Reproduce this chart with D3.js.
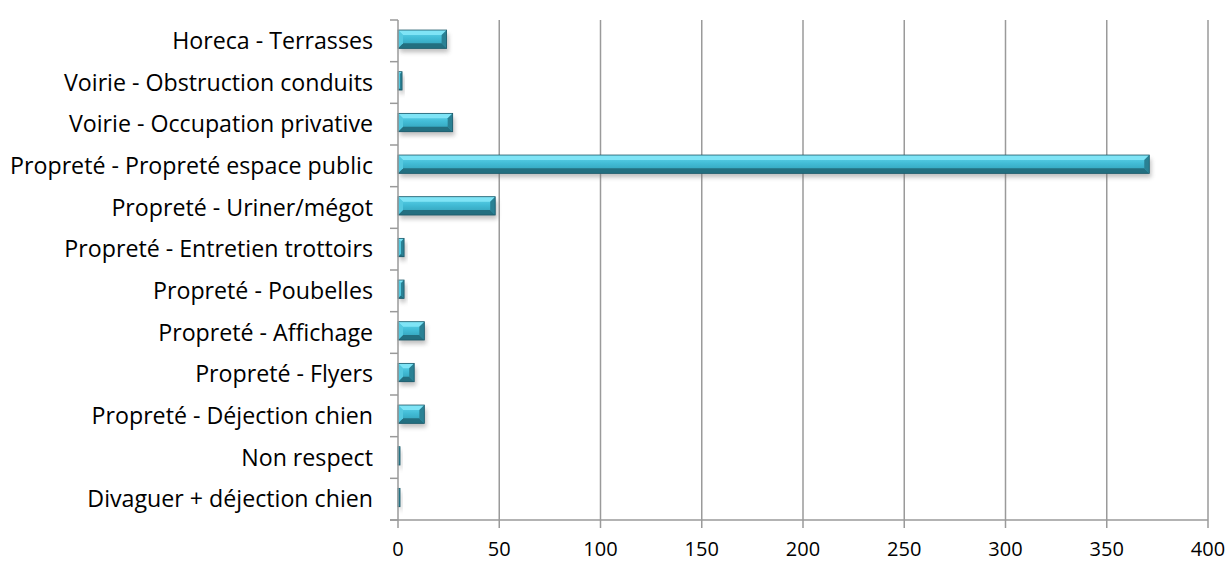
<!DOCTYPE html>
<html>
<head>
<meta charset="utf-8">
<script src="https://cdn.jsdelivr.net/npm/d3@7"></script>
<style>
  html, body { margin: 0; padding: 0; background: #fff; }
  svg { display: block; }
  text { font-family: "Open Sans", "Noto Sans", sans-serif; fill: #000; }
</style>
</head>
<body>
<svg id="chart" width="1230" height="562"></svg>
<script>
// Infractions by category (top to bottom)
const categories = [
  "Horeca - Terrasses",
  "Voirie - Obstruction conduits",
  "Voirie - Occupation privative",
  "Propreté - Propreté espace public",
  "Propreté - Uriner/mégot",
  "Propreté - Entretien trottoirs",
  "Propreté - Poubelles",
  "Propreté - Affichage",
  "Propreté - Flyers",
  "Propreté - Déjection chien",
  "Non respect",
  "Divaguer + déjection chien"
];
const values = [24, 2, 27, 371, 48, 3, 3, 13, 8, 13, 1, 1];
const xTicks = [0, 50, 100, 150, 200, 250, 300, 350, 400];

const svg = d3.select("#chart");
const margin = { left: 398, right: 22, top: 20, bottom: 42 };
const W = 1230, H = 562;
const plotRight = W - margin.right;
const plotBottom = H - margin.bottom;

const x = d3.scaleLinear().domain([0, 400]).range([margin.left, plotRight]);
const y = d3.scaleBand().domain(categories).range([margin.top, plotBottom])
  .paddingInner(0.56).paddingOuter(0.28).align(0.43);
const band = d3.scaleBand().domain(categories).range([margin.top, plotBottom]);

const defs = svg.append("defs");
const grad = defs.append("linearGradient").attr("id", "barFace")
  .attr("x1", 0).attr("y1", 0).attr("x2", 0).attr("y2", 1);
grad.append("stop").attr("offset", "0%").attr("stop-color", "#63d6ec");
grad.append("stop").attr("offset", "45%").attr("stop-color", "#42bcd6");
grad.append("stop").attr("offset", "100%").attr("stop-color", "#2f9ab2");
const blur = defs.append("filter").attr("id", "shadow")
  .attr("x", "-20%").attr("y", "-50%").attr("width", "140%").attr("height", "200%");
blur.append("feGaussianBlur").attr("stdDeviation", 2.2);

// Vertical gridlines
svg.append("g").selectAll("line").data(xTicks.filter(d => d > 0)).join("line")
  .attr("x1", d => x(d)).attr("x2", d => x(d))
  .attr("y1", margin.top).attr("y2", plotBottom)
  .attr("stroke", "#9a9a9a").attr("stroke-width", 1.5);

// Bars: shadow, bevelled face
const bars = svg.append("g").selectAll("g").data(categories).join("g");
bars.append("rect")
  .attr("x", x(0) + 2)
  .attr("y", d => y(d) + 4)
  .attr("width", (d, i) => Math.max(1, x(values[i]) - x(0)))
  .attr("height", y.bandwidth())
  .attr("fill", "#777").attr("opacity", 0.45)
  .attr("filter", "url(#shadow)");

bars.each(function(d, i) {
  const g = d3.select(this);
  const x0 = x(0), x1 = x(values[i]);
  const y0 = y(d), y1 = y(d) + y.bandwidth();
  const w = x1 - x0;
  const b = Math.min(5, w / 2, y.bandwidth() / 2);
  const ix0 = x0 + b, ix1 = x1 - b, iy0 = y0 + b, iy1 = y1 - b;
  g.append("rect").attr("x", x0).attr("y", y0).attr("width", w).attr("height", y1 - y0)
    .attr("fill", "url(#barFace)");
  const poly = (pts, fill) => g.append("polygon")
    .attr("points", pts.map(p => p.join(",")).join(" ")).attr("fill", fill);
  poly([[x0, y0], [x1, y0], [ix1, iy0], [ix0, iy0]], "#7fe4f6");
  poly([[x0, y1], [x1, y1], [ix1, iy1], [ix0, iy1]], "#236f80");
  poly([[x0, y0], [ix0, iy0], [ix0, iy1], [x0, y1]], "#55c9e0");
  poly([[x1, y0], [ix1, iy0], [ix1, iy1], [x1, y1]], "#2a8194");
  g.append("rect").attr("x", x0).attr("y", y0).attr("width", w).attr("height", y1 - y0)
    .attr("fill", "none").attr("stroke", "#1c5868").attr("stroke-width", 0.8);
});

// Category axis
const yAxisG = svg.append("g");
yAxisG.append("line").attr("x1", x(0)).attr("x2", x(0))
  .attr("y1", margin.top).attr("y2", plotBottom)
  .attr("stroke", "#9a9a9a").attr("stroke-width", 1.5);
const boundaries = categories.map(c => band(c)).concat([plotBottom]);
yAxisG.selectAll("line.tick").data(boundaries).join("line").attr("class", "tick")
  .attr("x1", x(0) - 8).attr("x2", x(0))
  .attr("y1", d => d).attr("y2", d => d)
  .attr("stroke", "#9a9a9a").attr("stroke-width", 1.5);
yAxisG.selectAll("text").data(categories).join("text")
  .attr("x", x(0) - 25)
  .attr("y", d => band(d) + band.bandwidth() / 2)
  .attr("dy", "0.35em")
  .attr("text-anchor", "end")
  .attr("font-size", 23.2)
  .text(d => d);

// Value axis
const xAxisG = svg.append("g");
xAxisG.append("line").attr("x1", x(0) - 8).attr("x2", plotRight)
  .attr("y1", plotBottom).attr("y2", plotBottom)
  .attr("stroke", "#9a9a9a").attr("stroke-width", 1.5);
xAxisG.selectAll("line.tick").data(xTicks).join("line").attr("class", "tick")
  .attr("x1", d => x(d)).attr("x2", d => x(d))
  .attr("y1", plotBottom).attr("y2", plotBottom + 8)
  .attr("stroke", "#9a9a9a").attr("stroke-width", 1.5);
xAxisG.selectAll("text").data(xTicks).join("text")
  .attr("x", d => x(d))
  .attr("y", plotBottom + 35.5)
  .attr("text-anchor", "middle")
  .attr("font-size", 20)
  .text(d => d);
</script>
</body>
</html>
